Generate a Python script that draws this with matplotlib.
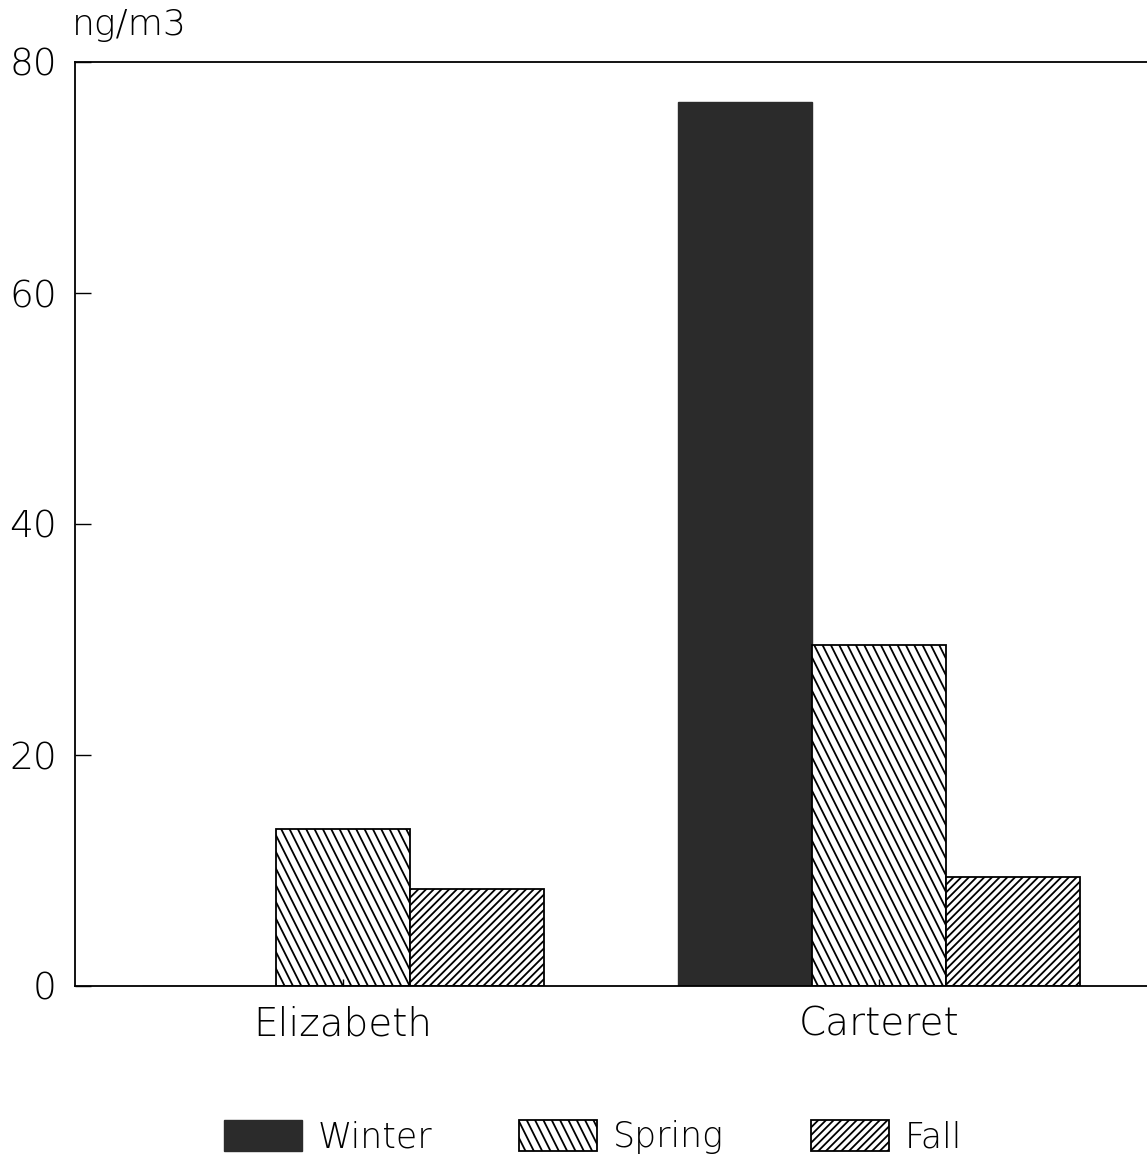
import numpy as np
import matplotlib
matplotlib.use("Agg")
from matplotlib import pyplot as plt
from matplotlib import hatch as mhatch
from matplotlib.path import Path

# data
sites = ["Elizabeth", "Carteret"]
seasons = ["Winter", "Spring", "Fall"]
winter = [0, 76.5]
spring = [13.6, 29.5]
fall = [8.4, 9.4]
yticks = [0, 20, 40, 60, 80]


class SlantHatch(mhatch.HatchPatternBase):
    '''
    '\\' -> steep lines like the old plotter (slope 2)
    '/'  -> 45 degree lines, a bit denser than matplotlib's
    '''
    def __init__(self, hatch, density):
        segs = []
        nb = 12 * hatch.count('\\')
        if nb:
            for k in range(-1, int(1.5 * nb) + 2):
                c = k / nb
                segs.append(((c, 0.0), (c - 0.5, 1.0)))
        nf = 13 * hatch.count('/')
        if nf:
            for k in range(-nf - 1, nf + 2):
                c = k / nf
                segs.append(((c, 0.0), (c + 1.0, 1.0)))
        self.segs = segs
        self.num_vertices = 2 * len(segs)

    def set_vertices_and_codes(self, vertices, codes):
        for i, (a, b) in enumerate(self.segs):
            vertices[2 * i] = a
            vertices[2 * i + 1] = b
            codes[2 * i] = Path.MOVETO
            codes[2 * i + 1] = Path.LINETO


mhatch._hatch_types = [h for h in mhatch._hatch_types
                       if h not in (mhatch.NorthEastHatch, mhatch.SouthEastHatch)] + [SlantHatch]

plt.rcParams['font.family'] = ['DejaVu Sans']
plt.rcParams['font.weight'] = 'light'
plt.rcParams['hatch.linewidth'] = 1.3

fig = plt.figure(figsize=(11.47, 11.66), dpi=100)
ax = fig.add_axes([75 / 1147, 1 - 986 / 1166, 1 - 75 / 1147, (986 - 62) / 1166])

x = np.arange(len(sites))
w = 0.25
ax.bar(x - w, winter, w, color='#2b2b2b', edgecolor='#2b2b2b', linewidth=1, label=seasons[0])
ax.bar(x, spring, w, color='white', edgecolor='black', linewidth=1.3, hatch='\\', label=seasons[1])
ax.bar(x + w, fall, w, color='white', edgecolor='black', linewidth=1.3, hatch='/', label=seasons[2])

ax.set_xlim(-0.5, 1.5)
ax.set_ylim(0, 80)
ax.set_yticks(yticks)
ax.set_xticks(x)
ax.set_xticklabels(sites)
ax.tick_params(axis='y', direction='in', length=11.5, width=1, pad=13, labelsize=27)
ax.tick_params(axis='x', direction='in', length=5, width=1, pad=14, labelsize=28)
ax.spines['right'].set_visible(False)
for s in ['left', 'bottom', 'top']:
    ax.spines[s].set_linewidth(1.3)

fig.text(72 / 1147, 1 - 35 / 1166, "ng/m3", fontsize=26, ha='left', va='baseline')

fig.legend(loc='center', bbox_to_anchor=(593 / 1147, 1 - 1137 / 1166), ncol=3,
           frameon=False, fontsize=25, handlelength=2.25, handleheight=1.0,
           handletextpad=0.45, columnspacing=2.5)

plt.savefig("out.png", dpi=100)
